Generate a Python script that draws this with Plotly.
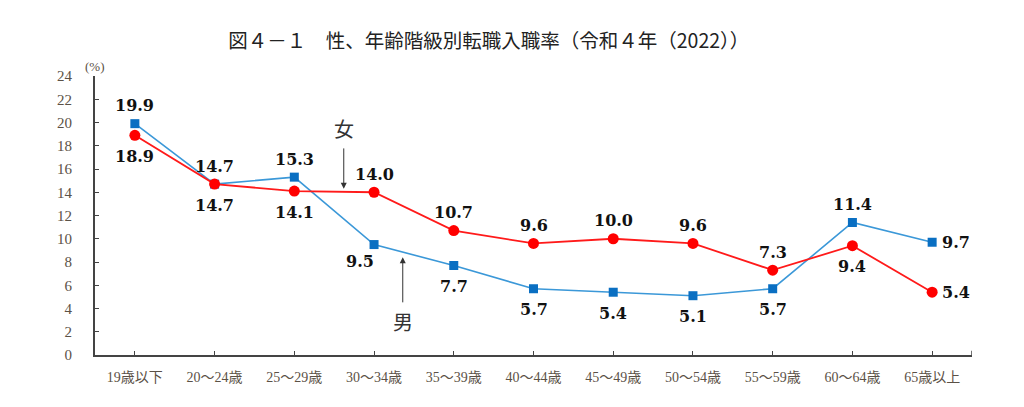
import plotly.graph_objects as go

# 年齢階級
age_groups = ["19歳以下", "20～24歳", "25～29歳", "30～34歳", "35～39歳", "40～44歳",
              "45～49歳", "50～54歳", "55～59歳", "60～64歳", "65歳以上"]

# 転職入職率 (%)
male = [19.9, 14.7, 15.3, 9.5, 7.7, 5.7, 5.4, 5.1, 5.7, 11.4, 9.7]
female = [18.9, 14.7, 14.1, 14.0, 10.7, 9.6, 10.0, 9.6, 7.3, 9.4, 5.4]

# ラベルの位置 (上 / 下 / 右 / 左下)
male_pos = ["up", "up", "up", "downleft", "down", "down", "down", "down", "down", "up", "right"]
female_pos = ["down", "down", "down", "up", "up", "up", "up", "up", "up", "down", "right"]

serif = "Liberation Serif, Noto Sans CJK JP"
label_font = dict(family="DejaVu Serif", size=16, color="#111111", weight="bold")
shifts = {"up": (0, 18), "down": (0, -21), "right": (8, 0), "downleft": (-14, -17)}

fig = go.Figure()
fig.add_trace(go.Scatter(x=age_groups, y=male, name="男", mode="lines+markers",
                         line=dict(color="#3b98d8", width=1.6),
                         marker=dict(symbol="square", size=9, color="#0a6fc2"),
                         cliponaxis=False))
fig.add_trace(go.Scatter(x=age_groups, y=female, name="女", mode="lines+markers",
                         line=dict(color="#ff1a1a", width=1.8),
                         marker=dict(symbol="circle", size=11, color="#ff0000"),
                         cliponaxis=False))

# データラベル
for vals, poss in [(male, male_pos), (female, female_pos)]:
    for cat, v, p in zip(age_groups, vals, poss):
        dx, dy = shifts[p]
        fig.add_annotation(x=cat, y=v, text=f"{v:.1f}", showarrow=False,
                           xanchor="left" if p == "right" else "center",
                           xshift=dx, yshift=dy, font=label_font)

# 女 / 男 の矢印
fig.add_annotation(x=2.62, y=14.3, ax=2.62, ay=17.9, xref="x", yref="y", axref="x", ayref="y",
                   text="", showarrow=True, arrowhead=2, arrowsize=1.2, arrowwidth=1,
                   arrowcolor="#333333")
fig.add_annotation(x=2.62, y=19.5, text="女", showarrow=False,
                   font=dict(family="Noto Sans CJK JP", size=20, color="#333333"))
fig.add_annotation(x=3.36, y=8.4, ax=3.36, ay=4.4, xref="x", yref="y", axref="x", ayref="y",
                   text="", showarrow=True, arrowhead=2, arrowsize=1.2, arrowwidth=1,
                   arrowcolor="#333333")
fig.add_annotation(x=3.36, y=2.9, text="男", showarrow=False,
                   font=dict(family="Noto Sans CJK JP", size=20, color="#333333"))
fig.add_annotation(x=0, y=1, xref="paper", yref="paper", xanchor="center", yanchor="bottom",
                   text="(%)", showarrow=False,
                   font=dict(family=serif, size=13, color="#5b5146"))

# x軸右端の目盛り
fig.add_shape(type="line", xref="x", yref="paper", x0=10.5, x1=10.5, y0=0, y1=0.015,
              line=dict(color="#444444", width=1.5))

fig.update_xaxes(type="category", range=[-0.5, 10.5], showline=True, linecolor="#444444",
                 linewidth=2, ticks="inside", ticklen=4, tickcolor="#444444",
                 ticklabelstandoff=8, showgrid=False,
                 tickfont=dict(family=serif, size=14, color="#5b5146"))
fig.update_yaxes(range=[0, 24], dtick=2, showline=True, linecolor="#444444", linewidth=2,
                 ticks="inside", ticklen=4, tickcolor="#444444", showgrid=False,
                 ticklabelstandoff=18, zeroline=False,
                 tickfont=dict(family=serif, size=15, color="#5b5146"))

fig.update_layout(
    title=dict(text="図４－１　性、年齢階級別転職入職率（令和４年（2022））",
               x=0.477, y=0.915, xanchor="center", yanchor="middle",
               font=dict(family="Noto Sans CJK JP", size=19.5, color="#222222")),
    width=1008, height=391, showlegend=False,
    margin=dict(l=87, r=44, t=68, b=44),
    plot_bgcolor="white", paper_bgcolor="white",
)

fig.write_html("out.html")
